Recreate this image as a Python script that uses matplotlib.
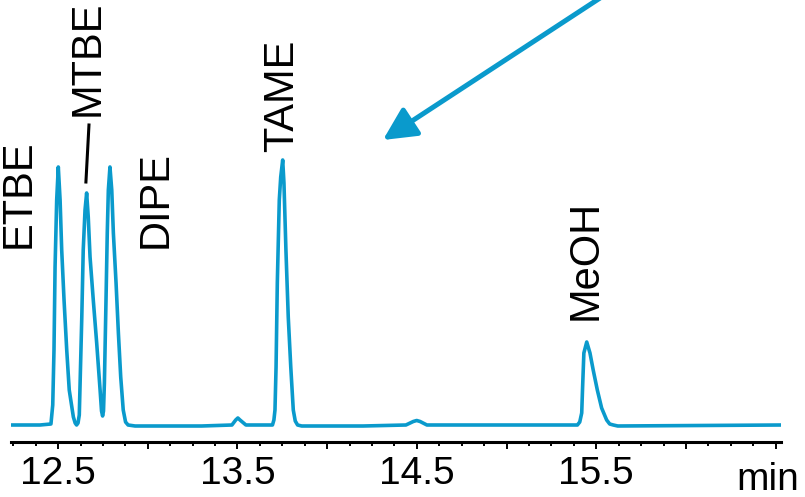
import matplotlib.pyplot as plt
from matplotlib.ticker import FixedLocator, MultipleLocator
import numpy as np

base_t = [12.239, 12.399, 12.460]
base_s = [0, 0, 1]

etbe_mtbe_dipe_t = [12.470, 12.477, 12.483, 12.492, 12.501, 12.511, 12.520, 12.533, 12.548, 12.562, 12.585, 12.595, 12.603, 12.611,
                    12.618, 12.632, 12.640, 12.650, 12.659, 12.668, 12.678, 12.696, 12.715, 12.734, 12.742, 12.748, 12.753,
                    12.758, 12.767, 12.774, 12.780, 12.789, 12.799, 12.808, 12.823, 12.836, 12.849, 12.863, 12.876, 12.890]
etbe_mtbe_dipe_s = [20, 75, 158, 225, 258, 225, 175, 125, 75, 35, 8, 2, 0, 2,
                    10, 108, 175, 215, 232, 208, 168, 125, 82, 35, 14, 9, 14,
                    42, 125, 192, 235, 258, 235, 192, 142, 92, 48, 15, 3, 0]

ruido_t = [12.929, 13.05, 13.18, 13.30, 13.469, 13.490, 13.502, 13.514, 13.547, 13.695]
ruido_s = [-1, -1, -1, -1, 0, 5, 7, 5, 0, 0]

tame_t = [13.703, 13.709, 13.715, 13.722, 13.733, 13.741, 13.752, 13.759, 13.770, 13.783, 13.797, 13.811, 13.822, 13.835, 13.858]
tame_s = [5, 15, 58, 142, 225, 248, 265, 242, 175, 108, 58, 15, 4, 0, -1]

bump_t = [14.20, 14.439, 14.480, 14.499, 14.518, 14.556, 15.0, 15.395]
bump_s = [-1, 0, 3.5, 4.5, 3.5, 0, 0, 0]

meoh_t = [15.408, 15.419, 15.424, 15.431, 15.447, 15.465, 15.483, 15.506, 15.530, 15.558, 15.575, 15.595, 15.620, 16.530]
meoh_s = [3, 12, 38, 72, 83, 72, 55, 35, 17, 5, 1, 0, -1, 0]

etiquetas = ['ETBE', 'MTBE', 'DIPE', 'TAME', 'MeOH']
etiqueta_t = [12.282, 12.667, 13.043, 13.748, 15.443]
etiqueta_s = [177, 309, 177, 273, 105]

ticks_mayores = [12.5, 13.0, 13.5, 14.0, 14.5, 15.0, 15.5, 16.0, 16.5]
ticks_texto = ['12.5', '', '13.5', '', '14.5', '', '15.5', '', '']

tiempo = np.array(base_t + etbe_mtbe_dipe_t + ruido_t + tame_t + bump_t + meoh_t)
senal = np.array(base_s + etbe_mtbe_dipe_s + ruido_s + tame_s + bump_s + meoh_s)

azul = '#0a9acc'
plt.rcParams['font.family'] = ['Liberation Sans', 'DejaVu Sans']

fig = plt.figure(figsize=(8.05, 4.97), dpi=100)
ax = fig.add_axes([11.3 / 805, 55.3 / 497, (781 - 11.3) / 805, 441.7 / 497])

ax.plot(tiempo, senal, color=azul, lw=2.6, solid_joinstyle='round', solid_capstyle='round')

ax.set_xlim(12.239, 16.530)
ax.set_ylim(-16.7, 425)

for s in ['left', 'top', 'right']:
    ax.spines[s].set_visible(False)
ax.spines['bottom'].set_linewidth(2.2)
ax.set_yticks([])

ax.xaxis.set_major_locator(FixedLocator(ticks_mayores))
ax.set_xticklabels(ticks_texto)
ax.xaxis.set_minor_locator(MultipleLocator(0.125))
ax.tick_params(axis='x', which='major', length=5, width=1.4, labelsize=28, pad=5)
ax.tick_params(axis='x', which='minor', length=3, width=1.4)

# unidad del eje
ax.text(16.454, -0.1093, 'min', transform=ax.get_xaxis_transform(), ha='center', va='baseline', fontsize=28)

for nombre, t, s in zip(etiquetas, etiqueta_t, etiqueta_s):
    ax.text(t, s, nombre, rotation=90, ha='center', va='bottom', fontsize=30)

# linea de la etiqueta MTBE
ax.plot([12.672, 12.655], [300, 243], color='black', lw=2.2)

# flecha
ax.annotate('', xy=(14.311, 285), xytext=(15.743, 453), annotation_clip=False,
            arrowprops=dict(arrowstyle='-|>,head_length=1.0,head_width=0.5', mutation_scale=20,
                            color=azul, lw=3.6, shrinkA=0, shrinkB=0))

fig.savefig('out.png', dpi=100)
